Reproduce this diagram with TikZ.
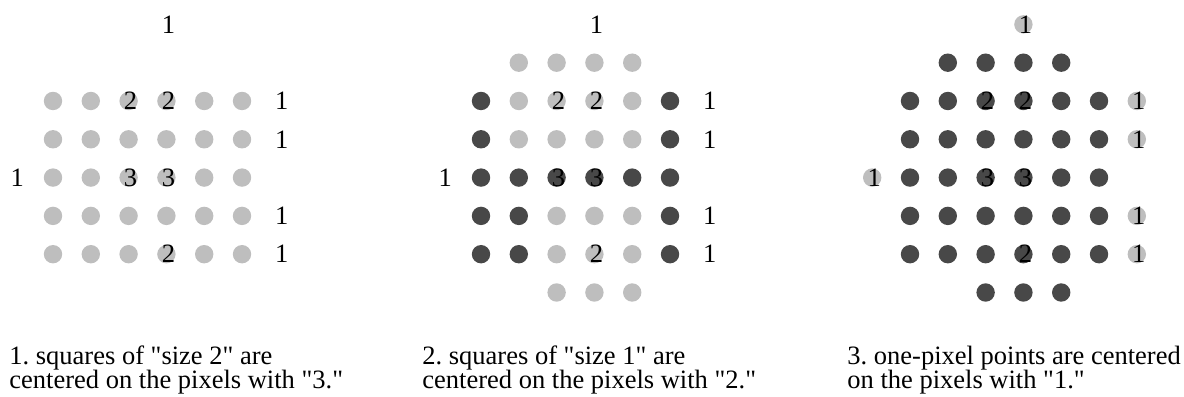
\documentclass[tikz,border=0pt]{standalone}
\usepackage{fontspec}
\setmainfont{Liberation Serif}
\definecolor{dotlight}{RGB}{190,190,190}
\definecolor{dotdark}{RGB}{72,72,72}
\newcommand{\qq}{\textquotedbl}
\newcommand{\tightlines}{\frenchspacing\lineskiplimit=-20pt\relax}
\tikzset{
  lightdot/.style={fill=dotlight},
  darkdot/.style={fill=dotdark},
  num/.style={font=\fontsize{13.25bp}{13.25bp}\selectfont, inner sep=0pt, xshift=1bp},
  captext/.style={font=\fontsize{13.25bp}{12.1bp}\selectfont\tightlines,
    align=left, anchor=base west, inner sep=0pt},
  grid/.style={x=18.9bp, y=-19.15bp}
}
\begin{document}
\begin{tikzpicture}[x=0.5bp, y=-0.5bp]
  \useasboundingbox (0,0) rectangle (1184,397);
  % panel 1: all pixels light
  \begin{scope}[shift={(53,101)}, grid]
    \foreach \r in {0,...,4}
      \foreach \c in {0,...,5}
        \fill[lightdot] (\c,\r) circle (4.6bp);
  \end{scope}
  % panel 2: size 1 squares dark
  \begin{scope}[shift={(481,101)}, grid]
    \foreach \c in {1,...,4} \fill[lightdot] (\c,-1) circle (4.6bp);
    \foreach \c in {2,3,4} \fill[lightdot] (\c,5) circle (4.6bp);
    \foreach \r in {0,1} \foreach \c in {1,...,4} \fill[lightdot] (\c,\r) circle (4.6bp);
    \foreach \r in {3,4} \foreach \c in {2,3,4} \fill[lightdot] (\c,\r) circle (4.6bp);
    \foreach \c/\r in {0/0,5/0,0/1,5/1,0/2,1/2,2/2,3/2,4/2,5/2,0/3,1/3,5/3,0/4,1/4,5/4}
      \fill[darkdot] (\c,\r) circle (4.6bp);
  \end{scope}
  % panel 3: everything dark, one-pixel points light
  \begin{scope}[shift={(910,101)}, grid]
    \foreach \c in {1,...,4} \fill[darkdot] (\c,-1) circle (4.6bp);
    \foreach \r in {0,...,4}
      \foreach \c in {0,...,5}
        \fill[darkdot] (\c,\r) circle (4.6bp);
    \foreach \c in {2,3,4} \fill[darkdot] (\c,5) circle (4.6bp);
    \foreach \c/\r in {3/-2,6/0,6/1,-1/2,6/3,6/4}
      \fill[lightdot] (\c,\r) circle (4.6bp);
  \end{scope}
  % pixel labels, same in every panel
  \foreach \p/\ox in {1/53,2/481,3/910} {
    \begin{scope}[shift={(\ox,101)}, grid]
      \foreach \c/\r in {3/-2,6/0,6/1,-1/2,6/3,6/4}
        \node[num] (p\p-one-\c-\r) at (\c,\r) {1};
      \foreach \c/\r in {2/0,3/0,3/4}
        \node[num] (p\p-two-\c-\r) at (\c,\r) {2};
      \foreach \c/\r in {2/2,3/2}
        \node[num] (p\p-three-\c-\r) at (\c,\r) {3};
    \end{scope}
  }
  % captions (base = last line)
  \node[captext] (cap1) at (9,389) {1. squares of \qq size 2\qq{} are\\centered on the pixels with \qq 3.\qq};
  \node[captext] (cap2) at (422,389) {2. squares of \qq size 1\qq{} are\\centered on the pixels with \qq 2.\qq};
  \node[captext] (cap3) at (847,389) {3. one-pixel points are centered\\on the pixels with \qq 1.\qq};
\end{tikzpicture}
\end{document}
